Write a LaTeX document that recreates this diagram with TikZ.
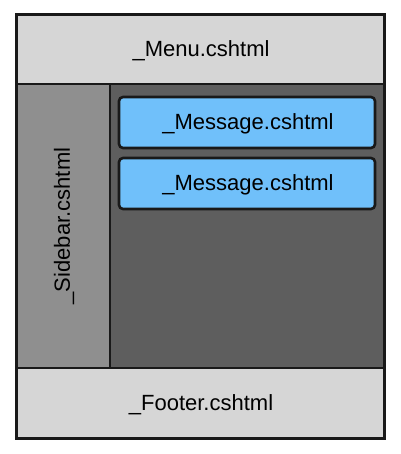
\documentclass[tikz,border=0pt]{standalone}
\usepackage{fontspec}
\setmainfont{Liberation Sans}
\begin{document}
\begin{tikzpicture}[x=1pt,y=-1pt,
  region/.style={draw=black!90,line width=2.6pt,fill=#1},
  msgbox/.style={draw=black!90,line width=2.6pt,fill=msgblue,rounded corners=4pt},
  lbl/.style={font=\fontsize{22}{25}\selectfont,text=black}]
\definecolor{msgblue}{HTML}{70C0FA}
\definecolor{lightgr}{HTML}{D6D6D6}
\definecolor{midgr}{HTML}{8F8F8F}
\definecolor{darkgr}{HTML}{5E5E5E}
\useasboundingbox (0,0) rectangle (400,454);
\draw[region=lightgr] (16,15) rectangle (384,84);
\draw[region=midgr] (16,84) rectangle (110,368);
\draw[region=darkgr] (110,84) rectangle (384,368);
\draw[region=lightgr] (16,368) rectangle (384,438);
\draw[draw=black!90,line width=3pt] (16,15) rectangle (384,438);
\draw[msgbox] (119,97) rectangle (375,148);
\draw[msgbox] (119,158) rectangle (375,209);
\node[lbl] (menu) at (201,51) {\_Menu.cshtml};
\node[lbl,rotate=90] (side) at (64,226) {\_Sidebar.cshtml};
\node[lbl] (m1) at (248,124) {\_Message.cshtml};
\node[lbl] (m2) at (248,185) {\_Message.cshtml};
\node[lbl] (foot) at (201,405) {\_Footer.cshtml};
\end{tikzpicture}
\end{document}
